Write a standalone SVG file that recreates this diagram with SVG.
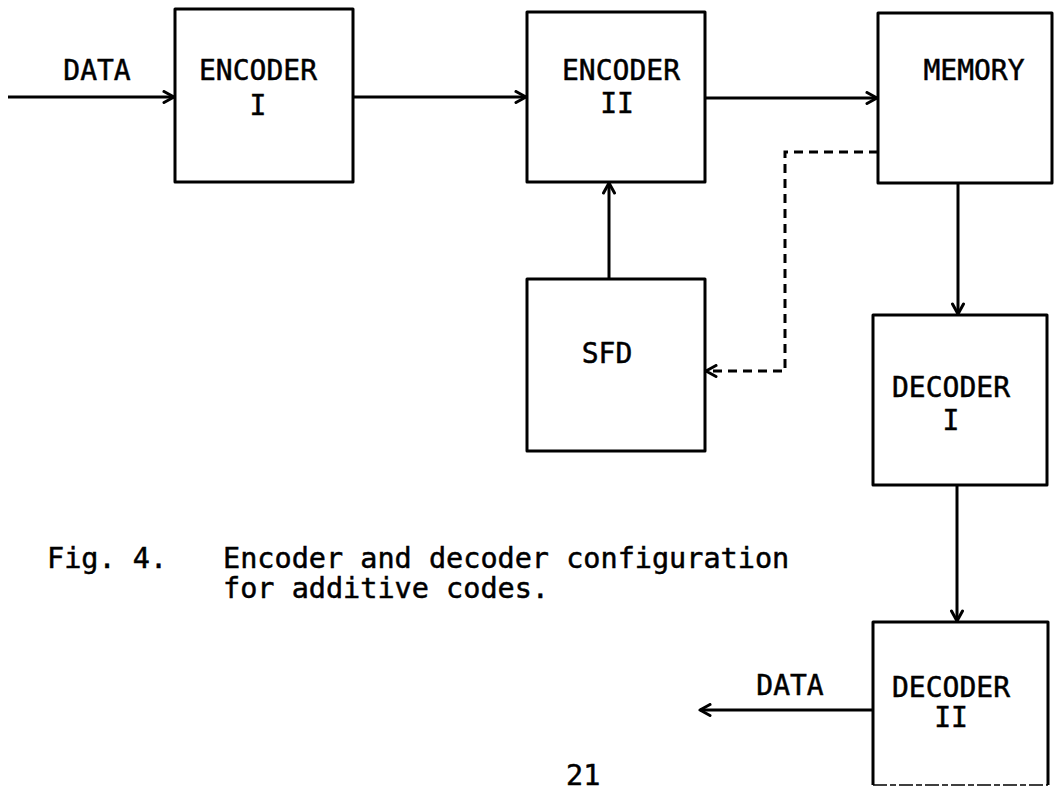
<svg xmlns="http://www.w3.org/2000/svg" width="1060" height="803" viewBox="0 0 1060 803">
  <defs>
    <style>
      .box { fill: none; stroke: #000; stroke-width: 3; stroke-linejoin: round; }
      .lbl { font-family: "DejaVu Sans Mono", "Liberation Mono", monospace; font-size: 28px; fill: #000; stroke: #000; stroke-width: 0.5; text-anchor: middle; }
      .cap { font-family: "DejaVu Sans Mono", "Liberation Mono", monospace; font-size: 28.5px; fill: #000; stroke: #000; stroke-width: 0.5; }
      .wire { fill: none; stroke: #000; stroke-width: 3; }
      .dash { stroke-dasharray: 9 6; }
    </style>
    <marker id="arrow" viewBox="0 0 14 14" refX="12" refY="7" markerWidth="14" markerHeight="14" markerUnits="userSpaceOnUse" orient="auto">
      <path d="M2,1.5 L12,7 L2,12.5" fill="none" stroke="#000" stroke-width="3" stroke-linecap="round" stroke-linejoin="round"/>
    </marker>
  </defs>

  <rect width="1060" height="803" fill="#fff"/>

  <!-- connectors -->
  <g id="connectors">
    <path class="wire" d="M8,97 H174" marker-end="url(#arrow)"/>
    <path class="wire" d="M353,97 H526" marker-end="url(#arrow)"/>
    <path class="wire" d="M705,98 H877" marker-end="url(#arrow)"/>
    <path class="wire" d="M609,279 V183" marker-end="url(#arrow)"/>
    <path class="wire dash" d="M878,152 H785 V371 H706" marker-end="url(#arrow)"/>
    <path class="wire" d="M958,183 V314" marker-end="url(#arrow)"/>
    <path class="wire" d="M957,485 V621" marker-end="url(#arrow)"/>
    <path class="wire" d="M873,710 H700" marker-end="url(#arrow)"/>
  </g>

  <!-- input label -->
  <text class="lbl" x="97" y="80">DATA</text>

  <g id="encoder1">
    <rect class="box" x="175" y="9" width="178" height="173"/>
    <text class="lbl" x="258" y="80">ENCODER</text>
    <text class="lbl" x="258" y="115">I</text>
  </g>

  <g id="encoder2">
    <rect class="box" x="527" y="12" width="178" height="170"/>
    <text class="lbl" x="621" y="80">ENCODER</text>
    <text class="lbl" x="617" y="113">II</text>
  </g>

  <g id="memory">
    <rect class="box" x="878" y="13" width="174" height="170"/>
    <text class="lbl" x="974" y="80">MEMORY</text>
  </g>

  <g id="sfd">
    <rect class="box" x="527" y="279" width="178" height="172"/>
    <text class="lbl" x="607" y="363">SFD</text>
  </g>

  <g id="decoder1">
    <rect class="box" x="873" y="315" width="174" height="170"/>
    <text class="lbl" x="951" y="397">DECODER</text>
    <text class="lbl" x="951" y="430">I</text>
  </g>

  <g id="decoder2">
    <path class="box" d="M873,785 V622 H1048 V785"/>
    <path d="M873,785 H1048" fill="none" stroke="#000" stroke-width="1.5" stroke-dasharray="14 3 6 3"/>
    <text class="lbl" x="951" y="697">DECODER</text>
    <text class="lbl" x="951" y="727">II</text>
  </g>

  <!-- output label -->
  <text class="lbl" x="790" y="695">DATA</text>

  <!-- caption -->
  <g id="caption">
    <text class="cap" x="47" y="568">Fig. 4.</text>
    <text class="cap" x="223" y="568">Encoder and decoder configuration</text>
    <text class="cap" x="223" y="598">for additive codes.</text>
  </g>

  <!-- page number -->
  <text class="cap" x="566" y="785">21</text>
</svg>
